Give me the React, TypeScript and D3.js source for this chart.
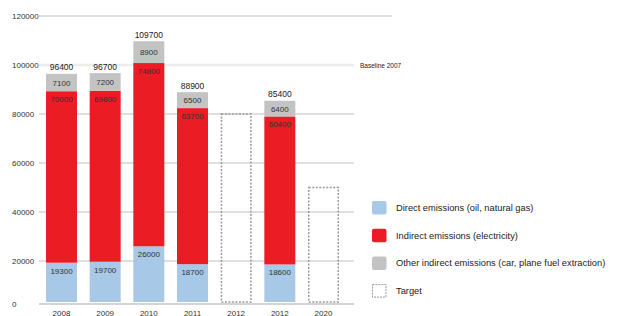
import * as d3 from 'd3';
import React from 'react';

// chart data
const years = ['2008', '2009', '2010', '2011', '2012', '2012', '2020'];
const direct = [19300, 19700, 26000, 18700, 0, 18600, 0];
const indirect = [70000, 69800, 74800, 63700, 0, 60400, 0];
const other = [7100, 7200, 8900, 6500, 0, 6400, 0];
const targets = [0, 0, 0, 0, 80000, 0, 50000];
const yTicks = [0, 20000, 40000, 60000, 80000, 100000, 120000];
const legendLabels = [
    'Direct emissions (oil, natural gas)',
    'Indirect emissions (electricity)',
    'Other indirect emissions (car, plane fuel extraction)',
    'Target',
];

const colors = ['#a7c8e6', '#ec1c24', '#c3c3c3'];
const font = '"Liberation Sans", Arial, sans-serif';

const App: React.FC = () => {
    const width = 624;
    const height = 316;

    const x = d3
        .scaleBand<number>()
        .domain(years.map((_, i) => i))
        .range([46, 339])
        .paddingInner(0.29)
        .paddingOuter(0);
    const y = d3.scaleLinear().domain([0, 120000]).range([310, 16]);

    const axisY = y(0) - 6;
    const barBottom = y(0) - 8;
    const gridLeft = 39;
    const gridRight = 354;

    const stack = years.map((_, i) => {
        const a = direct[i];
        const b = a + indirect[i];
        const c = b + other[i];
        return { a, b, c };
    });

    return (
        <svg width={width} height={height} style={{ position: 'absolute', left: 0, top: 0 }} fontFamily={font}>
            <rect width={width} height={height} fill="#fff" />

            {/* gridlines */}
            {yTicks.map(t => {
                const gy = t === 0 ? axisY : y(t);
                const stroke = t === 100000 ? '#ececec' : t === 0 ? '#c6c6c6' : '#d4d4d4';
                return (
                    <g key={t}>
                        <line
                            x1={gridLeft}
                            x2={t === 120000 ? 392 : gridRight}
                            y1={gy}
                            y2={gy}
                            stroke={stroke}
                            strokeWidth={t === 100000 ? 2.5 : 1.5}
                        />
                        <text x={12} y={gy + 3} fontSize={8} fill="#333">
                            {t}
                        </text>
                    </g>
                );
            })}
            <text x={360} y={y(100000) + 2.5} fontSize={6.5} fill="#222">
                Baseline 2007
            </text>

            {/* bars */}
            {years.map((yr, i) => {
                const bx = x(i)!;
                const bw = x.bandwidth();
                const cx = bx + bw / 2;
                if (targets[i] > 0) {
                    return (
                        <rect
                            key={i}
                            x={bx + 0.75}
                            y={y(targets[i])}
                            width={bw - 1.5}
                            height={barBottom - y(targets[i])}
                            fill="none"
                            stroke="#9a9a9a"
                            strokeWidth={1.5}
                            strokeDasharray="2,1.5"
                        />
                    );
                }
                const s = stack[i];
                return (
                    <g key={i}>
                        <rect x={bx} y={y(s.a)} width={bw} height={barBottom - y(s.a)} fill={colors[0]} />
                        <rect x={bx} y={y(s.b)} width={bw} height={y(s.a) - y(s.b)} fill={colors[1]} />
                        <rect x={bx} y={y(s.c)} width={bw} height={y(s.b) - y(s.c)} fill={colors[2]} />
                        <text x={cx} y={y(s.a) + 11} fontSize={8} textAnchor="middle" fill="#333">
                            {direct[i]}
                        </text>
                        <text x={cx} y={y(s.b) + 11} fontSize={8} textAnchor="middle" fill="#333">
                            {indirect[i]}
                        </text>
                        <text x={cx} y={(y(s.b) + y(s.c)) / 2 + 3} fontSize={8} textAnchor="middle" fill="#333">
                            {other[i]}
                        </text>
                        <text x={cx} y={y(s.c) - 3.5} fontSize={8.5} textAnchor="middle" fill="#222">
                            {s.c}
                        </text>
                    </g>
                );
            })}

            {/* x labels */}
            {years.map((yr, i) => (
                <text key={i} x={x(i)! + x.bandwidth() / 2} y={315.5} fontSize={8} textAnchor="middle" fill="#333">
                    {yr}
                </text>
            ))}

            {/* legend */}
            {legendLabels.map((label, i) => {
                const ly = 201 + i * 27.7;
                return (
                    <g key={label}>
                        {i < 3 ? (
                            <rect x={372} y={ly} width={14.5} height={13.5} rx={2} fill={colors[i]} />
                        ) : (
                            <rect
                                x={372.5}
                                y={ly + 0.5}
                                width={13.5}
                                height={12.5}
                                fill="none"
                                stroke="#9a9a9a"
                                strokeWidth={1}
                                strokeDasharray="2,1"
                            />
                        )}
                        <text x={396} y={ly + 10} fontSize={9.3} fill="#222">
                            {label}
                        </text>
                    </g>
                );
            })}
        </svg>
    );
};

export default App;
